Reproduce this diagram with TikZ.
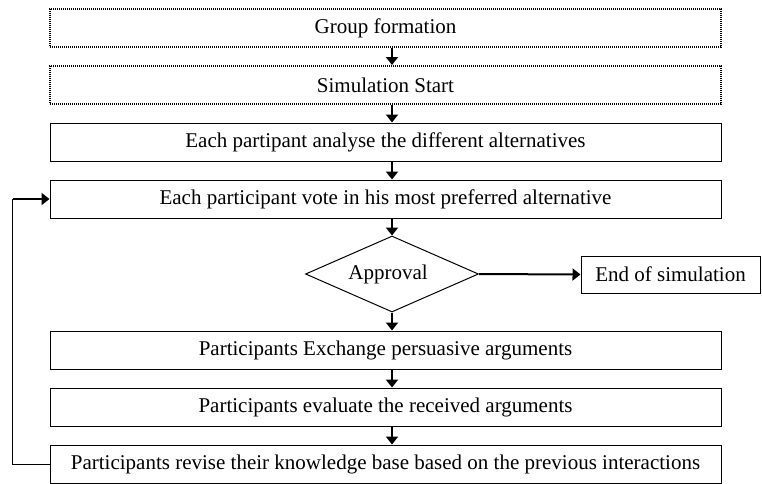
\documentclass[tikz,border=0pt]{standalone}
\usepackage{fontspec}
\setmainfont{Liberation Serif}
\usetikzlibrary{shapes.geometric, arrows.meta, positioning}

\begin{document}
\begin{tikzpicture}[x=1pt, y=-1pt, node distance=57pt, on grid,
            font=\fontsize{21}{24}\selectfont,
            stage/.style={draw, line width=1pt, minimum width=671pt, minimum height=38pt, inner sep=0pt},
            dotbox/.style={stage, line width=2pt, dash pattern=on 1.2pt off 0.8pt},
            flow/.style={line width=2pt, -{Triangle[width=12pt,length=8pt]}}]
            \useasboundingbox (0,0) rectangle (762,483);
            \node [dotbox] (group) at (385.5,28) {Group formation};
            \node [dotbox] [below =of group] (start) {Simulation Start};
            \node [stage] [below =of start] (analyse) {Each partipant analyse the different alternatives};
            \node [stage] [below =of analyse] (vote) {Each participant vote in his most preferred alternative};
            \node [diamond, draw, line width=1pt, minimum width=173pt, minimum height=76pt, aspect=2.3, inner sep=0pt] (approval) at (392,274) {\hspace*{-8pt}Approval};
            \node [stage, minimum width=179pt, minimum height=37pt] (end) at (670.5,274.5) {End of simulation};
            \node [stage] (exchange) at (385.5,350) {Participants Exchange persuasive arguments};
            \node [stage] [below =of exchange] (evaluate) {Participants evaluate the received arguments};
            \node [stage] [below =of evaluate] (revise) {Participants revise their knowledge base based on the previous interactions};
            \coordinate [left =37pt of vote.west] (back);
            % main flow
            \foreach \a/\b in {group/start, start/analyse, analyse/vote, exchange/evaluate, evaluate/revise}
            	\draw [flow] (\a.south -| approval.north) -- (\b.north -| approval.north);
            \draw [flow] (vote.south -| approval.north) -- (approval.north);
            \draw [flow] (approval.south) -- (exchange.north -| approval.south);
            \draw [flow] (approval.east) -- (end.west);
            % loop back
            \draw [line width=1pt] (revise.west) -| (back);
            \draw [flow] (back) -- (vote.west);
\end{tikzpicture}
\end{document}
